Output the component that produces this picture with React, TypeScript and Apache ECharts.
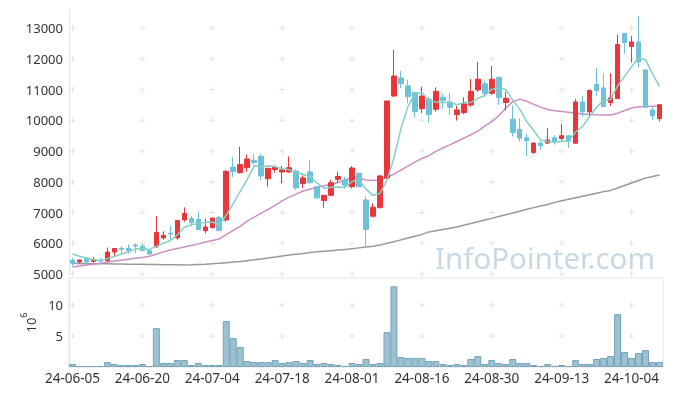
import React, { useEffect, useRef } from "react";
import * as echarts from "echarts";

const dates = [
  "24-06-05","24-06-07","24-06-10","24-06-11","24-06-12","24-06-13","24-06-14","24-06-17","24-06-18","24-06-19",
  "24-06-20","24-06-21","24-06-24","24-06-25","24-06-26","24-06-27","24-06-28","24-07-01","24-07-02","24-07-03",
  "24-07-04","24-07-05","24-07-08","24-07-09","24-07-10","24-07-11","24-07-12","24-07-15","24-07-16","24-07-17",
  "24-07-18","24-07-19","24-07-22","24-07-23","24-07-24","24-07-25","24-07-26","24-07-29","24-07-30","24-07-31",
  "24-08-01","24-08-02","24-08-05","24-08-06","24-08-07","24-08-08","24-08-09","24-08-12","24-08-13","24-08-14",
  "24-08-16","24-08-19","24-08-20","24-08-21","24-08-22","24-08-23","24-08-26","24-08-27","24-08-28","24-08-29",
  "24-08-30","24-09-02","24-09-03","24-09-04","24-09-05","24-09-06","24-09-09","24-09-10","24-09-11","24-09-12",
  "24-09-13","24-09-19","24-09-20","24-09-23","24-09-24","24-09-25","24-09-26","24-09-27","24-09-30","24-10-02",
  "24-10-04","24-10-07","24-10-08","24-10-10","24-10-11",
];

const opens = [
  5450,5390,5520,5410,5450,5435,5715,5835,5835,5945,
  5910,5760,5900,6175,6330,6175,6760,6800,6780,6410,
  6510,6840,6760,8480,8300,8460,8700,8830,8100,8400,
  8320,8320,8350,7940,8320,7840,7390,7560,8080,8060,
  7840,8280,7410,6880,7160,8120,10790,11380,11120,10900,
  10380,10685,10360,10750,10600,10185,10250,10500,10990,11190,
  10880,11400,10580,10035,9710,9430,8950,9260,9260,9430,
  9410,9500,9255,10600,10275,11163,11055,10580,10707,12830,
  12400,12550,11640,10340,10057,
];
const closes = [
  5350,5455,5390,5475,5420,5715,5830,5800,5750,5910,
  5760,5650,6350,6260,6300,6740,6970,6670,6450,6530,
  6820,6410,8340,8330,8560,8740,8630,8190,8440,8470,
  8385,8460,7800,8125,7970,7480,7560,7970,8170,7890,
  8450,7840,6450,7170,8190,10630,11440,11200,10770,10290,
  10790,10185,10945,10640,10425,10340,10535,10945,11340,10880,
  11340,10740,10720,9600,9420,9340,9260,9170,9360,9320,
  9500,9320,10600,10275,10970,10970,10450,10730,12465,12530,
  12550,11900,10425,10145,10510,
];
const lows = [
  5250,5350,5330,5370,5390,5400,5560,5650,5650,5680,
  5750,5620,5845,6110,6110,6110,6700,6540,6430,6320,
  6480,6410,6700,8150,8270,8330,8560,8060,7840,8290,
  7950,8300,7740,7800,7930,7430,7150,7540,7970,7780,
  7780,7840,5910,6840,7130,8100,10770,11040,10550,10100,
  10230,9910,10280,10360,10200,9990,10200,10440,10925,10750,
  10830,10500,10315,9470,9310,8840,8910,9040,9220,9210,
  9340,9100,9255,10120,10100,10800,10420,10470,10685,12160,
  11880,11730,10425,10014,9960,
];
const highs = [
  5530,5470,5540,5560,5530,5860,5830,5900,5960,6000,
  5975,5760,6890,6390,6570,6760,7170,6890,7040,6800,
  6840,6890,8385,8800,9140,8890,8900,8900,8440,8530,
  8515,8820,8400,8210,8700,7850,7560,8060,8330,8170,
  8510,8300,7520,7300,8220,10630,12290,11610,11320,10940,
  11100,10750,11075,10880,10900,10470,10750,11340,11900,11290,
  11770,11420,10930,10490,10070,9560,9280,9340,9740,9515,
  9880,9500,10690,10800,11010,11700,11530,11530,12790,12830,
  12750,13400,11640,10425,10510,
];

const ma5 = [
  5650,5580,5520,5460,5430,5500,5570,5650,5720,5810,
  5830,5800,5900,6000,6090,6270,6520,6600,6640,6680,
  6690,6590,6910,7290,7690,8080,8520,8490,8512,8494,
  8423,8389,8311,8248,8148,7967,7787,7821,7830,7814,
  8008,8064,7760,7560,7620,8056,8776,9726,10446,10866,
  10898,10647,10596,10570,10597,10507,10577,10577,10717,10808,
  11008,11049,11004,10656,10364,9964,9668,9358,9310,9290,
  9322,9334,9620,9803,10133,10427,10653,10679,11117,11429,
  11745,12035,11974,11510,11106,
];
const ma20 = [
  5230,5260,5290,5320,5350,5390,5420,5450,5480,5510,
  5540,5580,5640,5720,5780,5830,5880,5930,5980,6040,
  6090,6140,6280,6420,6550,6720,6850,6980,7100,7230,
  7380,7500,7600,7700,7760,7820,7870,7920,7980,8060,
  8140,8110,8060,8040,8070,8150,8250,8380,8510,8640,
  8760,8850,8990,9100,9200,9310,9420,9530,9650,9810,
  9960,10150,10400,10600,10690,10620,10520,10430,10350,10310,
  10290,10260,10230,10210,10190,10180,10175,10175,10230,10320,
  10400,10430,10450,10460,10470,
];
const ma60 = [
  5340,5340,5335,5335,5330,5330,5325,5325,5320,5320,
  5315,5310,5310,5305,5305,5300,5295,5300,5310,5320,
  5335,5350,5370,5390,5410,5435,5460,5490,5520,5550,
  5585,5615,5645,5670,5700,5720,5740,5760,5780,5800,
  5825,5850,5875,5900,5940,6000,6050,6110,6170,6230,
  6290,6370,6410,6450,6490,6530,6585,6640,6700,6755,
  6810,6870,6925,6985,7045,7105,7160,7210,7260,7330,
  7380,7430,7480,7530,7580,7630,7680,7720,7800,7880,
  7960,8040,8120,8170,8220,
];
const volumes = [
  0.48,0.15,0.15,0.15,0.15,0.8,0.48,0.32,0.32,0.32,
  0.48,0.15,6.29,0.64,0.64,1.12,1.12,0.32,0.64,0.32,
  0.32,0.32,7.42,4.67,3.22,0.96,0.8,0.8,0.8,1.12,
  0.64,0.8,0.96,0.64,1.12,0.48,0.64,0.48,0.32,0.15,
  0.64,0.48,1.29,0.48,0.64,5.64,13.06,1.61,1.45,1.45,
  1.45,0.96,0.96,0.48,0.32,0.48,0.32,1.29,1.77,0.48,
  1.12,0.64,0.48,1.29,0.64,0.64,0.32,0.15,0.48,0.15,
  0.32,0.15,1.12,0.48,0.48,1.29,1.45,1.77,8.55,2.42,
  1.45,2.26,2.74,0.8,0.8,
];

const priceTicks = [5000, 6000, 7000, 8000, 9000, 10000, 11000, 12000, 13000];
const volumeTicks = [5, 10];
const labelStep = 10;

const RED = "#e8363b";
const BLUE = "#6ec1d9";
const CROSS = "path://M5,0L5,10M0,5L10,5";

export default function App() {
  const ref = useRef<HTMLDivElement>(null);
  useEffect(() => {
    if (!ref.current) return;
    const chart = echarts.init(ref.current, null, { renderer: "svg" });
    const tickIdx = dates.map((_, i) => i).filter((i) => i % labelStep === 0);
    const crossMain: any[] = [];
    tickIdx.forEach((i) => priceTicks.forEach((v) => crossMain.push([dates[i], v])));
    const crossVol: any[] = [];
    tickIdx.forEach((i) => volumeTicks.forEach((v) => crossVol.push([dates[i], v])));
    const crossStyle = { color: "none", borderColor: "#dcdcdc", borderWidth: 1 };
    const font = "Noto Sans";
    const option: any = {
      animation: false,
      textStyle: { fontFamily: font },
      grid: [
        { left: 69, right: 10, top: 10, height: 264, outerBoundsMode: "none", containLabel: false },
        {
          left: 69, right: 10, top: 278, height: 89, outerBoundsMode: "none", containLabel: false,
          show: true, borderColor: "#e6e6e6", borderWidth: 1, backgroundColor: "transparent",
        },
      ],
      xAxis: [
        {
          type: "category", gridIndex: 0, data: dates, boundaryGap: true,
          axisLine: { show: false }, axisTick: { show: false }, axisLabel: { show: false }, splitLine: { show: false },
        },
        {
          type: "category", gridIndex: 1, data: dates, boundaryGap: true,
          axisLine: { show: false }, axisTick: { show: false }, splitLine: { show: false },
          axisLabel: { interval: labelStep - 1, color: "#333", fontSize: 13.5, fontFamily: font, margin: 4 },
        },
      ],
      yAxis: [
        {
          type: "value", gridIndex: 0, min: 5000, max: 13590, interval: 1000,
          axisLine: { show: true, lineStyle: { color: "#e3e3e3" } }, axisTick: { show: false }, splitLine: { show: false },
          axisLabel: { color: "#333", fontSize: 13, fontFamily: font, margin: 6, showMaxLabel: false, formatter: (v: number) => String(v) },
        },
        {
          type: "value", gridIndex: 1, min: 0, max: 14.4, interval: 5,
          axisLine: { show: true, lineStyle: { color: "#e3e3e3" } }, axisTick: { show: false }, splitLine: { show: false },
          axisLabel: { color: "#333", fontSize: 13, fontFamily: font, margin: 6, showMinLabel: false, showMaxLabel: false, formatter: (v: number) => String(v) },
          name: "{a|10}{b|6}", nameLocation: "middle", nameGap: 26, nameRotate: 90,
          nameTextStyle: {
            rich: {
              a: { fontSize: 13, color: "#333", fontFamily: font, lineHeight: 18, verticalAlign: "bottom" },
              b: { fontSize: 9, color: "#333", fontFamily: font, lineHeight: 18, verticalAlign: "top" },
            },
          },
        },
      ],
      graphic: [
        {
          type: "text", x: 435, y: 257, z: -10, silent: true,
          style: { text: "InfoPointer.com", fill: "#c9d9e4", font: '29.5px "Noto Sans"', verticalAlign: "middle" },
        },
      ],
      series: [
        {
          type: "scatter", xAxisIndex: 0, yAxisIndex: 0, data: crossMain, symbol: CROSS, symbolSize: 6,
          itemStyle: crossStyle, silent: true, z: 0,
        },
        {
          type: "scatter", xAxisIndex: 1, yAxisIndex: 1, data: crossVol, symbol: CROSS, symbolSize: 6,
          itemStyle: crossStyle, silent: true, z: 0,
        },
        {
          type: "line", xAxisIndex: 0, yAxisIndex: 0, data: ma60, symbol: "none", z: 2,
          lineStyle: { color: "#999999", width: 1.5 },
        },
        {
          type: "line", xAxisIndex: 0, yAxisIndex: 0, data: ma20, symbol: "none", z: 2,
          lineStyle: { color: "#cc8ec6", width: 1.5 },
        },
        {
          type: "candlestick", xAxisIndex: 0, yAxisIndex: 0, barWidth: 5, z: 3,
          data: dates.map((_, i) => [opens[i], closes[i], lows[i], highs[i]]),
          itemStyle: { color: RED, color0: BLUE, borderColor: RED, borderColor0: BLUE, borderWidth: 1 },
        },
        {
          type: "line", xAxisIndex: 0, yAxisIndex: 0, data: ma5, symbol: "none", z: 4,
          lineStyle: { color: "#86cfc4", width: 1.5 },
        },
        {
          type: "bar", xAxisIndex: 1, yAxisIndex: 1, data: volumes, barCategoryGap: "0%",
          itemStyle: { color: "#9cc2d2", borderColor: "#74a3b9", borderWidth: 1 },
        },
      ],
    };
    chart.setOption(option);
    return () => chart.dispose();
  }, []);
  return <div ref={ref} style={{ position: "fixed", left: 0, top: 0, width: 673, height: 396 }} />;
}
